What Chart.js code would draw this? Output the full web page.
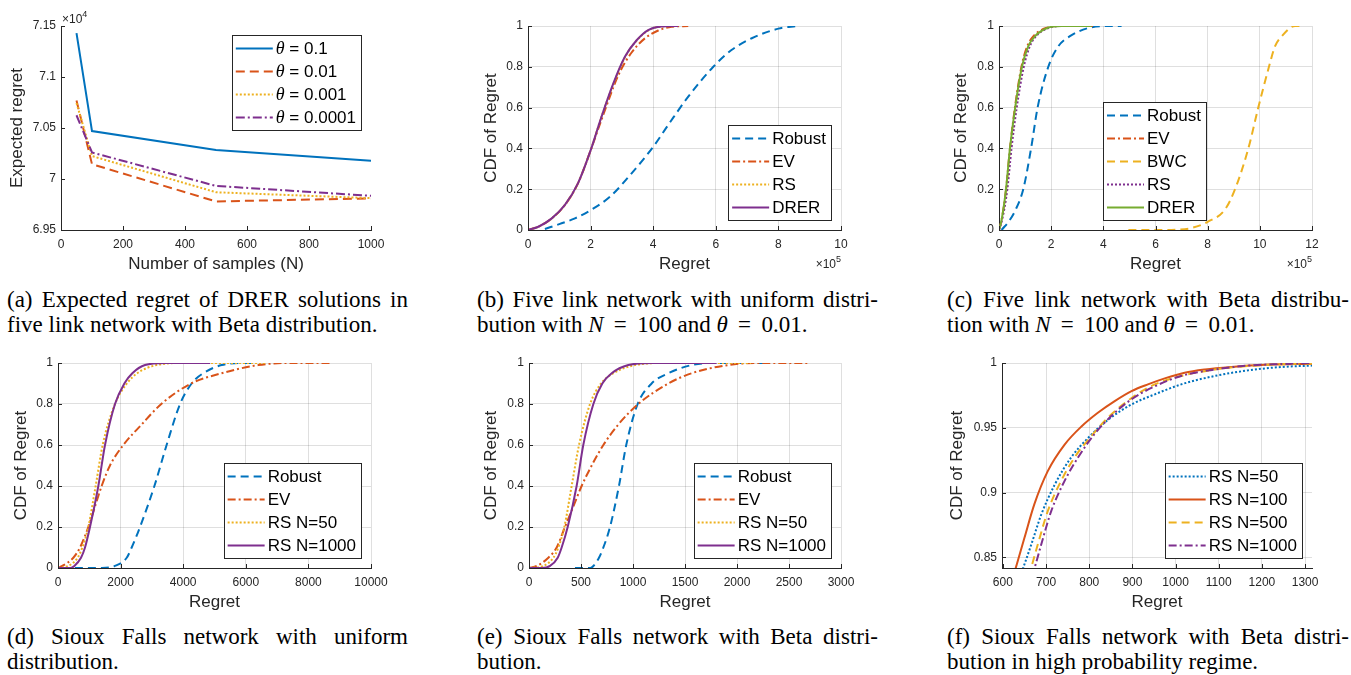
<!DOCTYPE html>
<html>
<head>
<meta charset="utf-8">
<script src="https://cdn.jsdelivr.net/npm/chart.js@4.4.1/dist/chart.umd.min.js"></script>
<style>
  body { margin: 0; background: #fff; width: 1351px; height: 675px; position: relative; overflow: hidden; }
  canvas { position: absolute; }
  .cap { position: absolute; font-family: "Liberation Serif", "Times New Roman", serif; font-size: 23px; line-height: 24.5px; color: #000; white-space: nowrap; }
  .cap .l1 { text-align: justify; text-align-last: justify; }
  .cap .l2 { text-align: left; }
</style>
</head>
<body>
<canvas id="chartA"></canvas>
<canvas id="chartB"></canvas>
<canvas id="chartC"></canvas>
<canvas id="chartD"></canvas>
<canvas id="chartE"></canvas>
<canvas id="chartF"></canvas>

<div class="cap" style="left:7px;top:288px;width:401px"><div class="l1">(a) Expected regret of DRER solutions in</div><div class="l2">five link network with Beta distribution.</div></div>
<div class="cap" style="left:477px;top:288px;width:401px"><div class="l1">(b) Five link network with uniform distri-</div><div class="l2">bution with <i>N</i>&thinsp; = &thinsp;100 and <i>θ</i>&thinsp; = &thinsp;0.01.</div></div>
<div class="cap" style="left:947px;top:288px;width:402px"><div class="l1">(c) Five link network with Beta distribu-</div><div class="l2">tion with <i>N</i>&thinsp; = &thinsp;100 and <i>θ</i>&thinsp; = &thinsp;0.01.</div></div>
<div class="cap" style="left:7px;top:625px;width:401px"><div class="l1">(d) Sioux Falls network with uniform</div><div class="l2">distribution.</div></div>
<div class="cap" style="left:477px;top:625px;width:401px"><div class="l1">(e) Sioux Falls network with Beta distri-</div><div class="l2">bution.</div></div>
<div class="cap" style="left:947px;top:625px;width:402px"><div class="l1">(f) Sioux Falls network with Beta distri-</div><div class="l2">bution in high probability regime.</div></div>

<script>
// ---- (a) expected regret vs number of samples
const sampleSizes = [50, 100, 500, 1000];
const regretTheta1 = [71430, 70470, 70285, 70180];
const regretTheta01 = [70770, 70145, 69780, 69810];
const regretTheta001 = [70745, 70225, 69870, 69812];
const regretTheta0001 = [70625, 70260, 69932, 69835];
const aXTicks = [0, 200, 400, 600, 800, 1000];
const aYTicks = [69500, 70000, 70500, 71000, 71500];

// ---- (b) five link, uniform (regret in 1e5)
const bRobustX = [0.54, 1.02, 1.5, 2.03, 2.62, 3.31, 4.0, 4.48, 5.12, 5.92, 6.5, 7.15, 8.0, 8.6];
const bRobustY = [0.005, 0.03, 0.057, 0.1, 0.163, 0.278, 0.408, 0.515, 0.654, 0.8, 0.882, 0.94, 0.987, 1.0];
const bEvX = [0, 0.33, 0.76, 1.18, 1.6, 2.0, 2.37, 2.89, 3.31, 3.74, 4.16, 4.59, 5.12];
const bEvY = [0, 0.016, 0.057, 0.123, 0.23, 0.39, 0.55, 0.76, 0.87, 0.94, 0.978, 0.996, 1.0];
const bRsX = [0, 0.33, 0.76, 1.18, 1.6, 2.0, 2.35, 2.74, 3.11, 3.48, 3.86, 4.3, 4.75];
const bRsY = [0, 0.016, 0.057, 0.123, 0.23, 0.39, 0.556, 0.72, 0.85, 0.93, 0.98, 0.998, 1.0];
const bDrerX = [0, 0.33, 0.76, 1.18, 1.6, 2.0, 2.35, 2.73, 3.1, 3.47, 3.84, 4.27, 4.8];
const bDrerY = [0, 0.016, 0.057, 0.123, 0.23, 0.39, 0.556, 0.72, 0.85, 0.93, 0.98, 0.998, 1.0];
const bXTicks = [0, 2, 4, 6, 8, 10];

// ---- (c) five link, Beta (regret in 1e5)
const cRobustX = [0.1, 0.42, 0.64, 0.93, 1.23, 1.48, 1.89, 2.27, 2.72, 3.42, 4.06, 4.7];
const cRobustY = [0, 0.05, 0.1, 0.2, 0.4, 0.6, 0.8, 0.9, 0.95, 0.99, 1, 1];
const cEvX = [0, 0.1, 0.27, 0.42, 0.61, 0.86, 1.08, 1.32, 1.8, 2.4, 3.6];
const cEvY = [0, 0.05, 0.2, 0.4, 0.6, 0.8, 0.9, 0.95, 0.99, 1, 1];
const cBwcX = [4.96, 6.0, 6.8, 7.39, 8.0, 8.66, 9.05, 9.56, 9.94, 10.35, 10.58, 10.84, 11.35, 11.6];
const cBwcY = [0, 0, 0.002, 0.01, 0.04, 0.1, 0.2, 0.4, 0.6, 0.8, 0.9, 0.95, 1, 1];
const cRsX = [0, 0.12, 0.32, 0.48, 0.68, 0.95, 1.18, 1.42, 1.9, 2.45, 3.5];
const cRsY = [0, 0.05, 0.2, 0.4, 0.6, 0.8, 0.9, 0.95, 0.99, 1, 1];
const cDrerX = [0, 0.1, 0.27, 0.42, 0.62, 0.88, 1.12, 1.38, 1.85, 2.4, 3.55];
const cDrerY = [0, 0.05, 0.2, 0.4, 0.6, 0.8, 0.9, 0.95, 0.99, 1, 1];
const cXTicks = [0, 2, 4, 6, 8, 10, 12];

// ---- (d) Sioux Falls, uniform
const dRobustX = [540, 1400, 1820, 2195, 2354, 2620, 3080, 3470, 3900, 4270, 4640, 5230, 5760, 6300];
const dRobustY = [0, 0, 0.01, 0.05, 0.1, 0.2, 0.4, 0.6, 0.8, 0.9, 0.95, 0.99, 1, 1];
const dEvX = [0, 138, 490, 703, 969, 1182, 1395, 1661, 2087, 2673, 3300, 4250, 5230, 6400, 7360, 8750];
const dEvY = [0, 0.01, 0.05, 0.1, 0.2, 0.3, 0.4, 0.5, 0.6, 0.7, 0.8, 0.9, 0.95, 0.99, 1, 1];
const dRs50X = [0, 330, 628, 777, 969, 1203, 1427, 1821, 2200, 2530, 3150, 4000, 6610];
const dRs50Y = [0, 0.01, 0.05, 0.1, 0.2, 0.4, 0.6, 0.8, 0.9, 0.95, 0.99, 1, 1];
const dRs1000X = [0, 400, 522, 735, 863, 1022, 1289, 1502, 1821, 2119, 2375, 2780, 3420, 4860];
const dRs1000Y = [0, 0, 0.01, 0.05, 0.1, 0.2, 0.4, 0.6, 0.8, 0.9, 0.95, 0.99, 1, 1];
const dXTicks = [0, 2000, 4000, 6000, 8000, 10000];

// ---- (e) Sioux Falls, Beta
const eRobustX = [442, 590, 619, 673, 715, 779, 865, 935, 1045, 1179, 1340, 1564, 1756, 2270];
const eRobustY = [0, 0, 0.01, 0.05, 0.1, 0.2, 0.4, 0.6, 0.8, 0.9, 0.95, 0.99, 1, 1];
const eEvX = [0, 74, 186, 266, 346, 426, 506, 603, 715, 859, 1051, 1340, 1564, 1917, 2205, 2700];
const eEvY = [0, 0.01, 0.05, 0.1, 0.2, 0.3, 0.4, 0.5, 0.6, 0.7, 0.8, 0.9, 0.95, 0.99, 1, 1];
const eRs50X = [0, 138, 234, 282, 340, 410, 481, 587, 692, 811, 1019, 1308, 2135];
const eRs50Y = [0, 0.01, 0.05, 0.1, 0.2, 0.4, 0.6, 0.8, 0.9, 0.95, 0.99, 1, 1];
const eRs1000X = [0, 122, 202, 276, 314, 372, 458, 522, 619, 705, 795, 955, 1180, 1804];
const eRs1000Y = [0, 0, 0.01, 0.05, 0.1, 0.2, 0.4, 0.6, 0.8, 0.9, 0.95, 0.99, 1, 1];
const eXTicks = [0, 500, 1000, 1500, 2000, 2500, 3000];

// ---- (f) Sioux Falls, Beta, high probability regime
const fRs50X = [640, 666, 689, 720, 758, 797, 843, 898, 952, 1013, 1091, 1168, 1245, 1316];
const fRs50Y = [0.835, 0.86, 0.883, 0.906, 0.927, 0.942, 0.956, 0.968, 0.9758, 0.9835, 0.99, 0.9943, 0.9969, 0.998];
const fRs100X = [624, 650, 673, 704, 743, 782, 820, 859, 898, 936, 975, 1021, 1068, 1129, 1207, 1316];
const fRs100Y = [0.835, 0.865, 0.891, 0.9165, 0.937, 0.951, 0.9616, 0.9706, 0.9783, 0.9835, 0.9881, 0.9925, 0.995, 0.997, 0.9987, 0.9995];
const fRs500X = [660, 681, 704, 735, 766, 805, 843, 898, 952, 1013, 1091, 1168, 1245, 1316];
const fRs500Y = [0.835, 0.86, 0.8856, 0.909, 0.927, 0.9436, 0.9577, 0.973, 0.9835, 0.99, 0.995, 0.9977, 0.999, 0.9997];
const fRs1000X = [668, 689, 712, 743, 774, 812, 851, 898, 952, 1013, 1091, 1168, 1245, 1316];
const fRs1000Y = [0.835, 0.86, 0.8856, 0.909, 0.927, 0.945, 0.959, 0.972, 0.982, 0.99, 0.995, 0.998, 0.9992, 1.0];
const fXTicks = [600, 700, 800, 900, 1000, 1100, 1200, 1300];
const fYTicks = [0.85, 0.9, 0.95, 1];

const cdfTicks = [0, 0.2, 0.4, 0.6, 0.8, 1];

const FONT = '"Liberation Sans", Arial, sans-serif';
const TXT = '#262626';
const GRID = 'rgba(38,38,38,0.15)';
const BLUE = '#0072BD', ORANGE = '#D95319', YELLOW = '#EDB120', PURPLE = '#7E2F8E', GREEN = '#77AC30';
const SOLID = [], DASH = [8, 5], DASHDOT = [8, 3, 2, 3], DOT = [2, 2];

function xy(xs, ys) { return xs.map((x, i) => ({ x: x, y: ys[i] })); }

function series(label, xs, ys, color, dash, i, smooth) {
  return {
    label: label, data: xy(xs, ys), borderColor: color, borderDash: dash,
    borderWidth: 2, pointRadius: 0, fill: false, order: -i,
    cubicInterpolationMode: smooth ? 'monotone' : 'default', tension: 0
  };
}

function drawLabel(ctx, text, x, y, draw) {
  let w = 0;
  if (text[0] === 'θ') {
    ctx.font = 'italic 18px "Liberation Serif", serif';
    if (draw) ctx.fillText('θ', x, y);
    w += ctx.measureText('θ').width;
    text = text.slice(1);
  }
  ctx.font = '17px ' + FONT;
  if (draw) ctx.fillText(text, x + w, y);
  return w + ctx.measureText(text).width;
}

// matlab look: inward ticks, exponent label, boxed legend
const matlabExtras = {
  id: 'matlabExtras',
  afterDatasetsDraw(chart, args, o) {
    const ctx = chart.ctx, a = chart.chartArea;
    const xs = chart.scales.x, ys = chart.scales.y;
    ctx.save();
    ctx.strokeStyle = TXT;
    ctx.lineWidth = 1;
    ctx.setLineDash([]);
    ctx.beginPath();
    xs.ticks.forEach(t => {
      const p = Math.round(xs.getPixelForValue(t.value)) + 0.5;
      ctx.moveTo(p, a.bottom); ctx.lineTo(p, a.bottom - 4);
    });
    ys.ticks.forEach(t => {
      const p = Math.round(ys.getPixelForValue(t.value)) + 0.5;
      ctx.moveTo(a.left, p); ctx.lineTo(a.left + 4, p);
    });
    ctx.stroke();

    if (o.exponent) {
      ctx.fillStyle = TXT;
      ctx.textBaseline = 'alphabetic';
      ctx.font = '12px ' + FONT;
      const base = ctx.measureText('×10').width;
      ctx.font = '9px ' + FONT;
      const sup = ctx.measureText(o.exponent.text).width;
      let x0, y0;
      if (o.exponent.at === 'topleft') { x0 = a.left + 1; y0 = a.top - 3; }
      else { x0 = a.right - base - sup; y0 = a.bottom + 38; }
      ctx.font = '12px ' + FONT;
      ctx.fillText('×10', x0, y0);
      ctx.font = '9px ' + FONT;
      ctx.fillText(o.exponent.text, x0 + base, y0 - 6);
    }

    if (o.legend) {
      const L = o.legend;
      const sets = chart.data.datasets;
      const tw = Math.max(...sets.map(d => drawLabel(ctx, d.label, 0, 0, false)));
      const w = 4 + 37 + 3 + tw + 5, h = sets.length * 23 + 3;
      const left = L.left !== undefined ? a.left + L.left : a.right - L.right - w;
      const top = L.top !== undefined ? a.top + L.top : a.bottom - L.bottom - h;
      ctx.fillStyle = '#fff';
      ctx.fillRect(left, top, w, h);
      ctx.strokeStyle = TXT;
      ctx.lineWidth = 1;
      ctx.setLineDash([]);
      ctx.strokeRect(Math.round(left) + 0.5, Math.round(top) + 0.5, Math.round(w), Math.round(h));
      sets.forEach((d, i) => {
        const cy = top + 13.5 + i * 23;
        ctx.strokeStyle = d.borderColor;
        ctx.lineWidth = 2;
        ctx.setLineDash(d.borderDash);
        ctx.beginPath();
        ctx.moveTo(left + 4, cy); ctx.lineTo(left + 41, cy);
        ctx.stroke();
        ctx.fillStyle = '#000';
        ctx.textBaseline = 'middle';
        drawLabel(ctx, d.label, left + 44, cy + 1, true);
      });
    }
    ctx.restore();
  }
};

function panel(id, box, cfg) {
  const yw = Math.round(cfg.yGap + 8.5), xh = 43;
  const padT = 22, padR = 32;
  const cv = document.getElementById(id);
  cv.width = yw + (box.r - box.l) + padR;
  cv.height = padT + (box.b - box.t) + xh;
  cv.style.left = (box.l - yw) + 'px';
  cv.style.top = (box.t - padT) + 'px';
  const tickFont = { family: FONT, size: 12 };
  const titleFont = { family: FONT, size: 17, lineHeight: 1 };
  new Chart(cv, {
    type: 'line',
    data: { datasets: cfg.datasets },
    options: {
      responsive: false,
      animation: false,
      devicePixelRatio: 1,
      layout: { padding: { top: padT, right: padR, left: 0, bottom: 0 } },
      plugins: {
        legend: { display: false },
        tooltip: { enabled: false },
        matlabExtras: { legend: cfg.legend, exponent: cfg.exponent }
      },
      scales: {
        x: {
          type: 'linear', min: cfg.xMin, max: cfg.xMax,
          afterBuildTicks: s => { s.ticks = cfg.xTicks.map(v => ({ value: v })); },
          afterFit: s => { s.height = xh; },
          grid: { display: cfg.grid, color: GRID, drawTicks: false },
          border: { display: true, color: TXT, width: 1 },
          ticks: { color: TXT, font: tickFont, padding: 7, maxRotation: 0, autoSkip: false,
                   callback: v => String(v) },
          title: { display: true, text: cfg.xTitle, color: TXT, font: titleFont, padding: 0 }
        },
        y: {
          type: 'linear', min: cfg.yMin, max: cfg.yMax,
          afterBuildTicks: s => { s.ticks = cfg.yTicks.map(v => ({ value: v })); },
          afterFit: s => { s.width = yw; },
          grid: { display: cfg.grid, color: GRID, drawTicks: false },
          border: { display: true, color: TXT, width: 1 },
          ticks: { color: TXT, font: tickFont, padding: 5, autoSkip: false,
                   callback: cfg.yFormat || (v => String(Math.round(v * 100) / 100)) },
          title: { display: true, text: cfg.yTitle, color: TXT, font: titleFont, padding: 0 }
        }
      }
    },
    plugins: [matlabExtras]
  });
}

panel('chartA', { l: 61, t: 26, r: 371, b: 230 }, {
  yGap: 43, grid: false,
  xMin: 0, xMax: 1000, xTicks: aXTicks, xTitle: 'Number of samples (N)',
  yMin: 69500, yMax: 71500, yTicks: aYTicks, yTitle: 'Expected regret',
  yFormat: v => String(Math.round(v / 100) / 100),
  exponent: { text: '4', at: 'topleft' },
  legend: { right: 10, top: 9 },
  datasets: [
    series('θ = 0.1', sampleSizes, regretTheta1, BLUE, SOLID, 0, false),
    series('θ = 0.01', sampleSizes, regretTheta01, ORANGE, [9, 5], 1, false),
    series('θ = 0.001', sampleSizes, regretTheta001, YELLOW, DOT, 2, false),
    series('θ = 0.0001', sampleSizes, regretTheta0001, PURPLE, [9, 3, 2, 3], 3, false)
  ]
});

panel('chartB', { l: 528, t: 26, r: 841, b: 230 }, {
  yGap: 36, grid: true,
  xMin: 0, xMax: 10, xTicks: bXTicks, xTitle: 'Regret',
  yMin: 0, yMax: 1, yTicks: cdfTicks, yTitle: 'CDF of Regret',
  exponent: { text: '5', at: 'bottomright' },
  legend: { right: 10, bottom: 10 },
  datasets: [
    series('Robust', bRobustX, bRobustY, BLUE, DASH, 0, true),
    series('EV', bEvX, bEvY, ORANGE, DASHDOT, 1, true),
    series('RS', bRsX, bRsY, YELLOW, DOT, 2, true),
    series('DRER', bDrerX, bDrerY, PURPLE, SOLID, 3, true)
  ]
});

panel('chartC', { l: 999, t: 26, r: 1312, b: 230 }, {
  yGap: 37, grid: true,
  xMin: 0, xMax: 12, xTicks: cXTicks, xTitle: 'Regret',
  yMin: 0, yMax: 1, yTicks: cdfTicks, yTitle: 'CDF of Regret',
  exponent: { text: '5', at: 'bottomright' },
  legend: { left: 104, bottom: 10 },
  datasets: [
    series('Robust', cRobustX, cRobustY, BLUE, DASH, 0, true),
    series('EV', cEvX, cEvY, ORANGE, DASHDOT, 1, true),
    series('BWC', cBwcX, cBwcY, YELLOW, DASH, 2, true),
    series('RS', cRsX, cRsY, PURPLE, DOT, 3, true),
    series('DRER', cDrerX, cDrerY, GREEN, SOLID, 4, true)
  ]
});

panel('chartD', { l: 58, t: 363, r: 371, b: 568 }, {
  yGap: 36, grid: true,
  xMin: 0, xMax: 10000, xTicks: dXTicks, xTitle: 'Regret',
  yMin: 0, yMax: 1, yTicks: cdfTicks, yTitle: 'CDF of Regret',
  legend: { right: 10, bottom: 10 },
  datasets: [
    series('Robust', dRobustX, dRobustY, BLUE, DASH, 0, true),
    series('EV', dEvX, dEvY, ORANGE, DASHDOT, 1, true),
    series('RS N=50', dRs50X, dRs50Y, YELLOW, DOT, 2, true),
    series('RS N=1000', dRs1000X, dRs1000Y, PURPLE, SOLID, 3, true)
  ]
});

panel('chartE', { l: 529, t: 363, r: 841, b: 568 }, {
  yGap: 37, grid: true,
  xMin: 0, xMax: 3000, xTicks: eXTicks, xTitle: 'Regret',
  yMin: 0, yMax: 1, yTicks: cdfTicks, yTitle: 'CDF of Regret',
  legend: { right: 10, bottom: 10 },
  datasets: [
    series('Robust', eRobustX, eRobustY, BLUE, DASH, 0, true),
    series('EV', eEvX, eEvY, ORANGE, DASHDOT, 1, true),
    series('RS N=50', eRs50X, eRs50Y, YELLOW, DOT, 2, true),
    series('RS N=1000', eRs1000X, eRs1000Y, PURPLE, SOLID, 3, true)
  ]
});

panel('chartF', { l: 1002, t: 363, r: 1312, b: 568 }, {
  yGap: 44, grid: true,
  xMin: 598, xMax: 1316, xTicks: fXTicks, xTitle: 'Regret',
  yMin: 0.8417, yMax: 1, yTicks: fYTicks, yTitle: 'CDF of Regret',
  legend: { right: 10, bottom: 10 },
  datasets: [
    series('RS N=50', fRs50X, fRs50Y, BLUE, DOT, 0, true),
    series('RS N=100', fRs100X, fRs100Y, ORANGE, SOLID, 1, true),
    series('RS N=500', fRs500X, fRs500Y, YELLOW, DASH, 2, true),
    series('RS N=1000', fRs1000X, fRs1000Y, PURPLE, DASHDOT, 3, true)
  ]
});
</script>
</body>
</html>
